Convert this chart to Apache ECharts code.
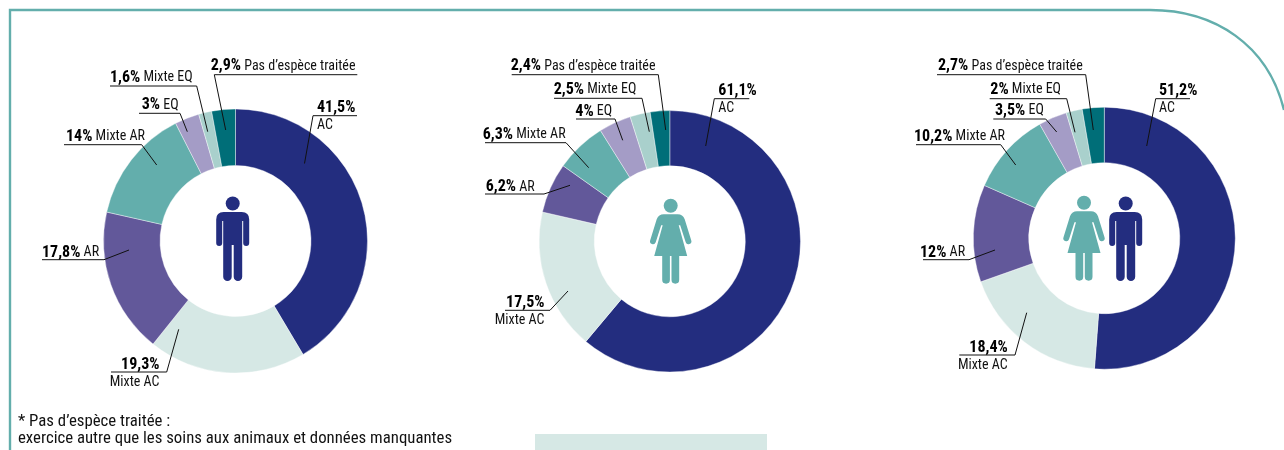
<!DOCTYPE html>
<html><head><meta charset="utf-8">
<style>html,body{margin:0;padding:0;background:#fff}#c{width:1284px;height:450px}</style>
<script src="https://cdn.jsdelivr.net/npm/echarts@6/dist/echarts.min.js"></script>
</head><body><div id="c"></div>
<script>
const categories = ['AC','Mixte AC','AR','Mixte AR','EQ','Mixte EQ',"Pas d’espèce traitée"];
const hommes = [41.5,19.3,17.8,14,3,1.6,2.9];
const femmes = [61.1,17.5,6.2,6.3,4,2.5,2.4];
const ensemble = [51.2,18.4,12,10.2,3.5,2,2.7];
const footnote1 = "* Pas d’espèce traitée :";
const footnote2 = "exercice autre que les soins aux animaux et données manquantes";
const colors = ['#232D7F','#D6E8E5','#62589A','#63AEAC','#A49CC6','#A9D0CC','#006E78'];
const FONT = '"Roboto Condensed","Liberation Sans",sans-serif';
const TEAL='#63AEAC', NAVY='#232D7F', INK='#111';

// label anchor and leader [ring point, elbow, underline end]
const annot1 = [
 {x:317,y:116.5,a:'left',two:1,p:[[304.5,163.5],[313,115.7],[357,115.7]]},
 {x:159.5,y:373.5,a:'right',two:1,p:[[178.7,329.3],[166.7,372],[111,372]]},
 {x:42,y:252.5,a:'left',p:[[129,250],[104,259.7],[42,259.7]]},
 {x:66,y:136.5,a:'left',p:[[156.7,165],[141.7,144.7],[64,144.7]]},
 {x:141.7,y:105,a:'left',p:[[187.3,131.7],[180,113.3],[139,113.3]]},
 {x:110,y:77.5,a:'left',p:[[207.7,131.7],[196.7,86],[110,86]]},
 {x:210.7,y:66,a:'left',p:[[225.7,130],[214.3,74.7],[357.3,74.7]]}
];
const annot2 = [
 {x:718.3,y:99.5,a:'left',two:1,p:[[705.7,146],[714.3,98.7],[749.3,98.7]]},
 {x:544.5,y:311.5,a:'right',two:1,p:[[568,291],[550,310.3],[505,310.3]]},
 {x:485.7,y:187,a:'left',p:[[570,185.3],[544,194],[485,194]]},
 {x:482.7,y:134.5,a:'left',p:[[588.7,167.7],[566,142.7],[485,142.7]]},
 {x:575.3,y:111.5,a:'left',p:[[622.7,140.3],[615,119],[576,119]]},
 {x:553.7,y:89.5,a:'left',p:[[649.3,131.7],[642,98.3],[554,98.3]]},
 {x:510.7,y:66,a:'left',p:[[665.7,130],[658.3,74.7],[511.7,74.7]]}
];
const annot3 = [
 {x:1159,y:99.5,a:'left',two:1,p:[[1146.7,146],[1155.7,98.7],[1190,98.7]]},
 {x:1007.7,y:356.5,a:'right',two:1,p:[[1026.7,312.7],[1015,355],[959.3,355]]},
 {x:920,y:252.5,a:'left',p:[[995,250],[969,259.7],[923,259.7]]},
 {x:914,y:136.5,a:'left',p:[[1015.7,165],[1000.7,144.7],[916,144.7]]},
 {x:995,y:110.5,a:'left',p:[[1056.7,132],[1045.7,119],[993.3,119]]},
 {x:990.3,y:89.5,a:'left',p:[[1075,132.3],[1066.7,98.7],[989.7,98.7]]},
 {x:938,y:66,a:'left',p:[[1093.3,130],[1085.7,74.7],[937,74.7]]}
];
const panels = [
 {name:'Hommes',values:hommes,center:[235.5,241],r:132,annot:annot1},
 {name:'Femmes',values:femmes,center:[669.8,241.3],r:130.7,annot:annot2},
 {name:'Ensemble',values:ensemble,center:[1104.3,238.2],r:131,annot:annot3}
];
const pct = v => String(v).replace('.',',')+'%';

const series = panels.map(p => ({
  type:'pie', name:p.name, center:p.center, radius:[75.5,p.r], startAngle:90, clockwise:true,
  avoidLabelOverlap:false, animation:false, silent:true,
  itemStyle:{borderColor:'#fff',borderWidth:0.4},
  label:{show:true,position:'outside',fontFamily:FONT,fontSize:14,color:INK,lineHeight:18,
    rich:{
      b:{fontFamily:FONT,fontWeight:'bold',fontSize:16,color:'#000',lineHeight:18},
      n:{fontFamily:FONT,fontSize:14,color:INK,lineHeight:18}
    }},
  labelLine:{show:false},
  labelLayout:function(a){
    const t=p.annot[a.dataIndex];
    return {x:t.x,y:t.y,align:t.a,verticalAlign:'middle',hideOverlap:false,moveOverlap:false};
  },
  data:categories.map((c,i)=>({
    name:c,value:p.values[i],itemStyle:{color:colors[i]},
    label:{align:p.annot[i].a,formatter:p.annot[i].two
      ? '{b|'+pct(p.values[i])+'}\n{n|'+c+'}'
      : '{b|'+pct(p.values[i])+'} {n|'+c+'}'}
  }))
}));

const framePath='M10,450V10H1150C1215,10 1268,45 1284,110';
const manPath='M-9,0H9Q16.5,0 16.5,7.5V31A3,3 0 0 1 10.5,31V9H9.5V64.7A4.2,4.2 0 0 1 1,64.7V33H-1V64.7A4.2,4.2 0 0 1 -9.5,64.7V9H-10.5V31A3,3 0 0 1 -16.5,31V7.5Q-16.5,0 -9,0Z';
const womanPath='M-7,0H7Q12,0 14,5L20.5,26A2.9,2.9 0 0 1 15,28L9.5,11H8L16.5,41.7H8.5V65.5A3.8,3.8 0 0 1 0.8,65.5V41.7H-0.8V65.5A3.8,3.8 0 0 1 -8.5,65.5V41.7H-16.5L-8,11H-9.5L-15,28A2.9,2.9 0 0 1 -20.5,26L-14,5Q-12,0 -7,0Z';
function person(path,color,cx,y0){
  return {type:'group',x:cx,y:y0,children:[
    {type:'circle',shape:{cx:0,cy:-8.5,r:7},style:{fill:color}},
    {type:'path',shape:{pathData:path},style:{fill:color}}
  ]};
}
const leaders=[];
panels.forEach(p=>p.annot.forEach(t=>leaders.push(
  {type:'polyline',shape:{points:t.p},style:{fill:'none',stroke:INK,lineWidth:1}})));
series.push({
  type:'custom',coordinateSystem:'none',silent:true,animation:false,data:[[0]],z:5,
  renderItem:function(){
    return {type:'group',children:[
      {type:'path',shape:{pathData:framePath},style:{fill:'none',stroke:TEAL,lineWidth:2.4}},
      person(manPath,NAVY,232.7,212),
      person(womanPath,TEAL,670.7,214.3),
      person(womanPath,TEAL,1084,211.3),
      person(manPath,NAVY,1125.7,212)
    ].concat(leaders)};
  }
});
const chart=echarts.init(document.getElementById('c'),null,{renderer:'canvas'});
chart.setOption({
  backgroundColor:'#fff',animation:false,
  graphic:{elements:[
    {type:'rect',silent:true,shape:{x:535,y:434,width:232,height:16},style:{fill:'#D6E8E5'}},
    {type:'text',silent:true,x:18,y:421.5,style:{text:footnote1,font:'16.8px '+FONT,fill:INK,verticalAlign:'middle'}},
    {type:'text',silent:true,x:18,y:439,style:{text:footnote2,font:'16.8px '+FONT,fill:INK,verticalAlign:'middle'}}
  ]},
  series:series
});
</script></body></html>
